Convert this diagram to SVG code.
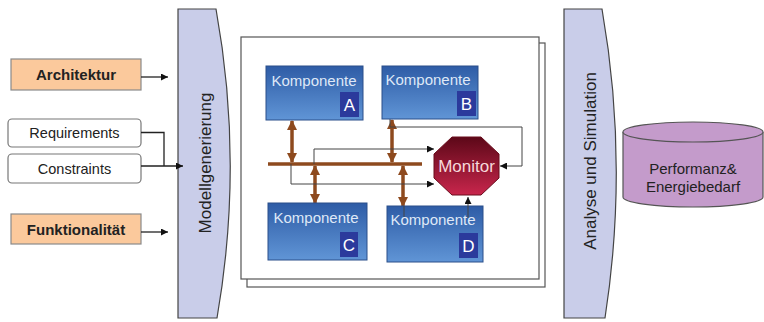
<svg xmlns="http://www.w3.org/2000/svg" width="764" height="322" viewBox="0 0 764 322">
<defs>
<style>
.t{font-family:"Liberation Sans",Arial,sans-serif;}
.in{fill:#fbc99c;stroke:#8a8a8a;stroke-width:1.2;}
.req{fill:#ffffff;stroke:#777;stroke-width:1.2;}
.ban{fill:#c9cde9;stroke:#444;stroke-width:1.2;}
.paper{fill:#ffffff;stroke:#555;stroke-width:1.2;}
.comp{fill:url(#gb);stroke:#2a4f8a;stroke-width:1;}
.shadow{fill:#9aa3b5;}
.lab{fill:#2b3a9c;}
.ct{font-size:15px;fill:#dfe8f7;text-anchor:middle;}
.lt{font-size:17px;fill:#ffffff;text-anchor:middle;}
.thin{fill:none;stroke:#444;stroke-width:1;}
.bus{stroke:#8e4a1e;stroke-width:3.5;fill:none;}
.bl{fill:none;stroke:#222;stroke-width:1.3;}
</style>
<linearGradient id="gb" x1="0" y1="0" x2="0" y2="1">
<stop offset="0" stop-color="#2e5ca6"/>
<stop offset="1" stop-color="#6095d6"/>
</linearGradient>
<linearGradient id="gm" x1="0" y1="0" x2="0" y2="1">
<stop offset="0" stop-color="#5c0818"/>
<stop offset="1" stop-color="#c8264c"/>
</linearGradient>
<marker id="ah" viewBox="0 0 10 10" refX="10" refY="5" markerWidth="7" markerHeight="7" markerUnits="userSpaceOnUse" orient="auto">
<path d="M0,0 L10,5 L0,10 Z" fill="#111"/>
</marker>
<marker id="ba" viewBox="0 0 10 10" refX="9" refY="5" markerWidth="10" markerHeight="10" markerUnits="userSpaceOnUse" orient="auto-start-reverse">
<path d="M0,0 L10,5 L0,10 Z" fill="#8e4a1e"/>
</marker>
</defs>
<rect width="764" height="322" fill="#ffffff"/>

<g id="banner-modell">
<path class="ban" d="M178,9 L216,9 Q244,163 217,318 L178,318 Z"/>
<text class="t" transform="translate(205,163) rotate(-90)" font-size="17" text-anchor="middle" dominant-baseline="central" fill="#222">Modellgenerierung</text>
</g>

<g id="banner-analyse">
<path class="ban" d="M564,9 L602,9 Q629,163 605,318 L564,318 Z"/>
<text class="t" transform="translate(590,161) rotate(-90)" font-size="17" text-anchor="middle" dominant-baseline="central" fill="#222">Analyse und Simulation</text>
</g>

<g id="architektur">
<rect class="in" x="11" y="59" width="130" height="31"/>
<text class="t" x="76" y="80" font-size="15" font-weight="bold" text-anchor="middle" fill="#222">Architektur</text>
</g>
<g id="requirements">
<rect class="req" x="8" y="119" width="133" height="28" rx="4"/>
<text class="t" x="74.5" y="138" font-size="14.5" text-anchor="middle" fill="#222">Requirements</text>
</g>
<g id="constraints">
<rect class="req" x="8" y="154" width="133" height="29" rx="4"/>
<text class="t" x="74.5" y="174" font-size="14.5" text-anchor="middle" fill="#222">Constraints</text>
</g>
<g id="funktionalitaet">
<rect class="in" x="11" y="214" width="130" height="30"/>
<text class="t" x="76" y="235" font-size="15" font-weight="bold" text-anchor="middle" fill="#222">Funktionalität</text>
</g>

<g id="system">
<rect class="paper" x="247" y="43" width="298" height="244"/>
<rect class="paper" x="241" y="37" width="298" height="242"/>
</g>

<g id="monitor">
<polygon points="452,137 481,137 499,154 499,178 481,195 452,195 434,178 434,154" fill="url(#gm)" stroke="#6a0c1c" stroke-width="1"/>
<text class="t" x="466.5" y="172" font-size="17" text-anchor="middle" fill="#f6d8da">Monitor</text>
</g>

<g id="connectors">
<path class="bl" d="M141,77 H168" marker-end="url(#ah)"/>
<path class="bl" d="M141,132.5 H164 V166 M141,166 H164 H183" marker-end="url(#ah)"/>
<path class="bl" d="M141,232 H168" marker-end="url(#ah)"/>
<line class="bus" x1="268" y1="164" x2="422" y2="164"/>
<line class="bus" x1="292" y1="121" x2="292" y2="162" marker-start="url(#ba)" marker-end="url(#ba)"/>
<line class="bus" x1="315" y1="166" x2="315" y2="203" marker-start="url(#ba)" marker-end="url(#ba)"/>
<line class="bus" x1="392" y1="120" x2="392" y2="162" marker-start="url(#ba)" marker-end="url(#ba)"/>
<line class="bus" x1="403" y1="166" x2="403" y2="206" marker-start="url(#ba)" marker-end="url(#ba)"/>
<path class="thin" d="M314,164 V149 H434" marker-end="url(#ah)"/>
<path class="thin" d="M291,164 V184 H434" marker-end="url(#ah)"/>
<path class="thin" d="M390,119 V127 H522 V166 H500" marker-end="url(#ah)"/>
</g>

<g id="komponente-a">
<rect class="comp" x="266" y="66" width="97" height="54"/>
<rect class="lab" x="340" y="92" width="19" height="25"/>
<text class="t ct" x="314" y="86">Komponente</text>
<text class="t lt" x="349.5" y="111">A</text>
</g>
<g id="komponente-b">
<rect class="comp" x="382" y="66" width="96" height="53"/>
<rect class="lab" x="457" y="91" width="19" height="25"/>
<text class="t ct" x="428" y="85">Komponente</text>
<text class="t lt" x="466.5" y="110">B</text>
</g>
<g id="komponente-c">
<rect class="comp" x="268" y="203" width="99" height="57"/>
<rect class="lab" x="340" y="232" width="18" height="25"/>
<text class="t ct" x="316" y="223">Komponente</text>
<text class="t lt" x="349" y="251">C</text>
</g>
<g id="komponente-d">
<rect class="comp" x="387" y="206" width="96" height="56"/>
<rect class="lab" x="459" y="233" width="19" height="25"/>
<path class="thin" d="M404,206 V218"/>
<path class="thin" d="M468,218 V197" marker-end="url(#ah)"/>
<text class="t ct" x="433" y="225">Komponente</text>
<text class="t lt" x="468.5" y="252">D</text>
</g>

<g id="ergebnis">
<path d="M623,132 V197 A70,10 0 0 0 763,197 V132" fill="#c49bcb" stroke="#555" stroke-width="1.2"/>
<ellipse cx="693" cy="132" rx="70" ry="10" fill="#c49bcb" stroke="#555" stroke-width="1.2"/>
<text class="t" x="693" y="174" font-size="15" text-anchor="middle" fill="#222">Performanz&amp;</text>
<text class="t" x="693" y="192" font-size="15" text-anchor="middle" fill="#222">Energiebedarf</text>
</g>
</svg>
